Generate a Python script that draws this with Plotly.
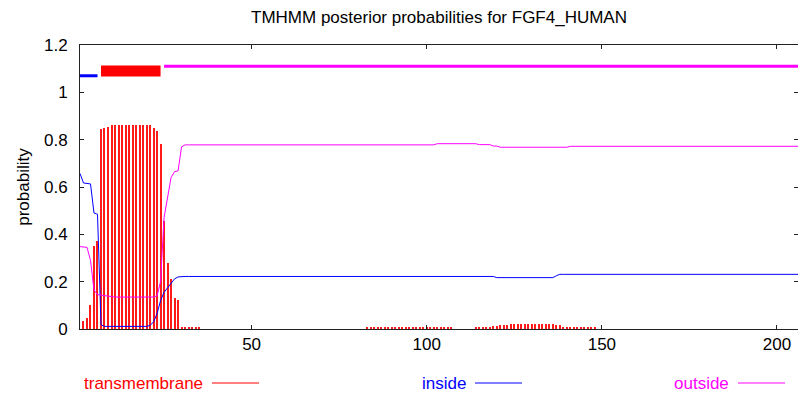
import plotly.graph_objects as go

# ---------------- data ----------------
residues = list(range(1, 207))

transmembrane = [
    0.0, 0.035, 0.046, 0.10, 0.35, 0.373, 0.847, 0.85, 0.855,
    0.862, 0.862, 0.862, 0.862, 0.862, 0.862, 0.862, 0.862, 0.862, 0.862, 0.862, 0.862,
    0.85, 0.835, 0.78, 0.456, 0.278, 0.21, 0.133, 0.123,
    0.008, 0.008, 0.008, 0.008, 0.008, 0.008,
    0, 0, 0, 0, 0, 0, 0, 0, 0, 0, 0, 0, 0, 0, 0, 0, 0, 0, 0, 0, 0, 0, 0, 0,
    0, 0, 0, 0, 0, 0, 0, 0, 0, 0, 0, 0, 0, 0, 0, 0, 0, 0, 0, 0, 0, 0, 0,
    0.005, 0.005, 0.005, 0.005, 0.005, 0.005, 0.005, 0.005, 0.005, 0.005, 0.005, 0.005, 0.005,
    0.005, 0.005, 0.005, 0.005, 0.006, 0.006, 0.006, 0.005, 0.005, 0.005, 0.005, 0.005,
    0, 0, 0, 0, 0, 0,
    0.006, 0.006, 0.006, 0.006, 0.006,
    0.011, 0.011,
    0.017, 0.017, 0.017,
    0.022, 0.022, 0.022, 0.022, 0.022, 0.022, 0.022, 0.022, 0.022, 0.022, 0.022, 0.022, 0.022,
    0.017, 0.017,
    0.006, 0.006, 0.006, 0.006, 0.006, 0.006, 0.006, 0.006, 0.006, 0.006,
    0, 0, 0, 0, 0, 0, 0, 0, 0, 0, 0, 0, 0, 0, 0, 0, 0, 0, 0, 0, 0, 0, 0, 0, 0, 0, 0, 0, 0,
    0, 0, 0, 0, 0, 0, 0, 0, 0, 0, 0, 0, 0, 0, 0, 0, 0, 0, 0, 0, 0, 0, 0, 0, 0, 0, 0, 0, 0,
]

inside = [
    0.657, 0.617, 0.615, 0.613, 0.49, 0.485, 0.018,
    0.011, 0.011, 0.011, 0.011, 0.011, 0.011, 0.011, 0.011, 0.011, 0.011, 0.011, 0.011, 0.011,
    0.015, 0.03, 0.065, 0.12, 0.155, 0.175, 0.195, 0.212, 0.22,
    0.222, 0.222, 0.222, 0.222, 0.222, 0.222, 0.222, 0.222, 0.222, 0.222, 0.222, 0.222, 0.222, 0.222, 0.222,
    0.222, 0.222, 0.222, 0.222, 0.222, 0.222, 0.222, 0.222, 0.222, 0.222, 0.222, 0.222, 0.222, 0.222, 0.222,
    0.222, 0.222, 0.222, 0.222, 0.222, 0.222, 0.222, 0.222, 0.222, 0.222, 0.222, 0.222, 0.222, 0.222, 0.222,
    0.222, 0.222, 0.222, 0.222, 0.222, 0.222, 0.222, 0.222, 0.222, 0.222, 0.222, 0.222, 0.222, 0.222, 0.222,
    0.222, 0.222, 0.222, 0.222, 0.222, 0.222, 0.222, 0.222, 0.222, 0.222, 0.222, 0.222, 0.222, 0.222, 0.222,
    0.222, 0.222, 0.222, 0.222, 0.222, 0.222, 0.222, 0.222, 0.222, 0.222, 0.222, 0.222, 0.222, 0.222, 0.222,
    0.217, 0.217, 0.217, 0.217, 0.217, 0.217, 0.217, 0.217, 0.217, 0.217, 0.217, 0.217, 0.217, 0.217, 0.217,
    0.217, 0.217,
    0.225,
    0.231, 0.231, 0.231, 0.231, 0.231, 0.231, 0.231, 0.231, 0.231, 0.231, 0.231, 0.231, 0.231, 0.231, 0.231,
    0.231, 0.231, 0.231, 0.231, 0.231, 0.231, 0.231, 0.231, 0.231, 0.231, 0.231, 0.231, 0.231, 0.231, 0.231,
    0.231, 0.231, 0.231, 0.231, 0.231, 0.231, 0.231, 0.231, 0.231, 0.231, 0.231, 0.231, 0.231, 0.231, 0.231,
    0.231, 0.231, 0.231, 0.231, 0.231, 0.231, 0.231, 0.231, 0.231, 0.231, 0.231, 0.231, 0.231, 0.231, 0.231,
    0.231, 0.231, 0.231, 0.231, 0.231, 0.231, 0.231, 0.231, 0.231,
]

outside = [
    0.348, 0.348, 0.345, 0.29, 0.165, 0.145, 0.143, 0.142, 0.14,
    0.135, 0.135, 0.135, 0.135, 0.135, 0.135, 0.135, 0.135, 0.135, 0.135, 0.135, 0.135,
    0.135, 0.14, 0.20, 0.47, 0.56, 0.64, 0.665, 0.668, 0.77,
    0.778, 0.778, 0.778, 0.778, 0.778, 0.778, 0.778, 0.778, 0.778, 0.778, 0.778, 0.778,
    0.778, 0.778, 0.778, 0.778, 0.778, 0.778, 0.778, 0.778, 0.778, 0.778, 0.778, 0.778,
    0.778, 0.778, 0.778, 0.778, 0.778, 0.778, 0.778, 0.778, 0.778, 0.778, 0.778, 0.778,
    0.778, 0.778, 0.778, 0.778, 0.778, 0.778, 0.778, 0.778, 0.778, 0.778, 0.778, 0.778,
    0.778, 0.778, 0.778, 0.778, 0.778, 0.778, 0.778, 0.778, 0.778, 0.778, 0.778, 0.778,
    0.778, 0.778, 0.778, 0.778, 0.778, 0.778, 0.778, 0.778, 0.778, 0.778, 0.778, 0.778,
    0.783, 0.783, 0.783, 0.783, 0.783, 0.783, 0.783, 0.783, 0.783, 0.783, 0.783, 0.783,
    0.779, 0.779, 0.779, 0.779,
    0.773, 0.773,
    0.768, 0.768, 0.768, 0.768, 0.768, 0.768, 0.768, 0.768, 0.768, 0.768,
    0.768, 0.768, 0.768, 0.768, 0.768, 0.768, 0.768, 0.768, 0.768, 0.768,
    0.772, 0.772, 0.772, 0.772, 0.772, 0.772, 0.772, 0.772, 0.772, 0.772, 0.772,
    0.772, 0.772, 0.772, 0.772, 0.772, 0.772, 0.772, 0.772, 0.772, 0.772, 0.772,
    0.772, 0.772, 0.772, 0.772, 0.772, 0.772, 0.772, 0.772, 0.772, 0.772, 0.772,
    0.772, 0.772, 0.772, 0.772, 0.772, 0.772, 0.772, 0.772, 0.772, 0.772, 0.772,
    0.772, 0.772, 0.772, 0.772, 0.772, 0.772, 0.772, 0.772, 0.772, 0.772, 0.772,
    0.772, 0.772, 0.772, 0.772, 0.772, 0.772, 0.772, 0.772, 0.772, 0.772, 0.772,
]

# predicted topology (segment start, end, drawing level)
topo_names = ["inside", "transmembrane", "outside"]
topo_start = [1, 7, 25]
topo_end = [6, 24, 206]
topo_level = [1.07, 1.09, 1.11]

x_ticks = [50, 100, 150, 200]
y_ticks = [0, 0.2, 0.4, 0.6, 0.8, 1.0, 1.2]
y_tick_labels = ["0", "0.2", "0.4", "0.6", "0.8", "1", "1.2"]

legend_names = ["transmembrane", "inside", "outside"]

# ---------------- style ----------------
RED, BLUE, MAGENTA = "#ff0000", "#0000ff", "#ff00ff"
colors = {"transmembrane": RED, "inside": BLUE, "outside": MAGENTA}
topo_width = {"transmembrane": 11, "inside": 3, "outside": 3}
FONT = "Liberation Sans, Arial, sans-serif"

W, H = 798, 398
ML, MR, MT, MB = 80, 0, 45, 69

fig = go.Figure()

fig.add_trace(go.Bar(x=residues, y=transmembrane, width=0.3,
                     marker=dict(color="#ff1a1a", line=dict(width=0)), showlegend=False))
fig.add_trace(go.Scatter(x=residues, y=inside, mode="lines",
                         line=dict(color=BLUE, width=1), showlegend=False))
fig.add_trace(go.Scatter(x=residues, y=outside, mode="lines",
                         line=dict(color=MAGENTA, width=1), showlegend=False))

for name, s, e, lv in zip(topo_names, topo_start, topo_end, topo_level):
    fig.add_trace(go.Scatter(x=[s, e], y=[lv, lv], mode="lines",
                             line=dict(color=colors[name], width=topo_width[name]),
                             showlegend=False))

# bottom legend: text followed by line sample (pixel positions -> paper)
pw, ph = W - ML - MR, H - MT - MB
def px_to_paper_x(px):
    return (px - ML) / pw
def py_to_paper_y(py):
    return (H - MB - py) / ph

legend_text_right = [205, 468, 731]
legend_line_len = 47
legend_y = 383
for name, xr in zip(legend_names, legend_text_right):
    fig.add_annotation(x=px_to_paper_x(xr), y=py_to_paper_y(legend_y), xref="paper", yref="paper",
                       text=name, showarrow=False, xanchor="right", yanchor="middle",
                       font=dict(family=FONT, size=17, color=colors[name]))
    fig.add_shape(type="line", xref="paper", yref="paper",
                  x0=px_to_paper_x(xr + 7), x1=px_to_paper_x(xr + 7 + legend_line_len),
                  y0=py_to_paper_y(legend_y), y1=py_to_paper_y(legend_y),
                  line=dict(color=colors[name], width=1))

axis_common = dict(showline=True, linecolor="#222", linewidth=1, mirror="ticks",
                   ticks="inside", ticklen=4, tickcolor="#222", showgrid=False,
                   zeroline=False, tickfont=dict(family=FONT, size=17, color="#000"))

fig.update_layout(
    width=W, height=H,
    margin=dict(l=ML, r=MR, t=MT, b=MB),
    paper_bgcolor="white", plot_bgcolor="white",
    title=dict(text="TMHMM posterior probabilities for FGF4_HUMAN",
               x=(ML + pw / 2) / W, xanchor="center", y=1 - 17 / H, yanchor="middle",
               xref="container", yref="container",
               font=dict(family=FONT, size=17, color="#000")),
    xaxis=dict(range=[1, 206], tickvals=x_ticks, ticktext=[str(v) for v in x_ticks],
               **axis_common),
    yaxis=dict(range=[0, 1.2], tickvals=y_ticks, ticktext=y_tick_labels,
               ticklabelstandoff=8,
               title=dict(text="probability", font=dict(family=FONT, size=17, color="#000"),
                          standoff=10),
               **axis_common),
    bargap=0,
    showlegend=False,
)

fig.write_html("out.html")
